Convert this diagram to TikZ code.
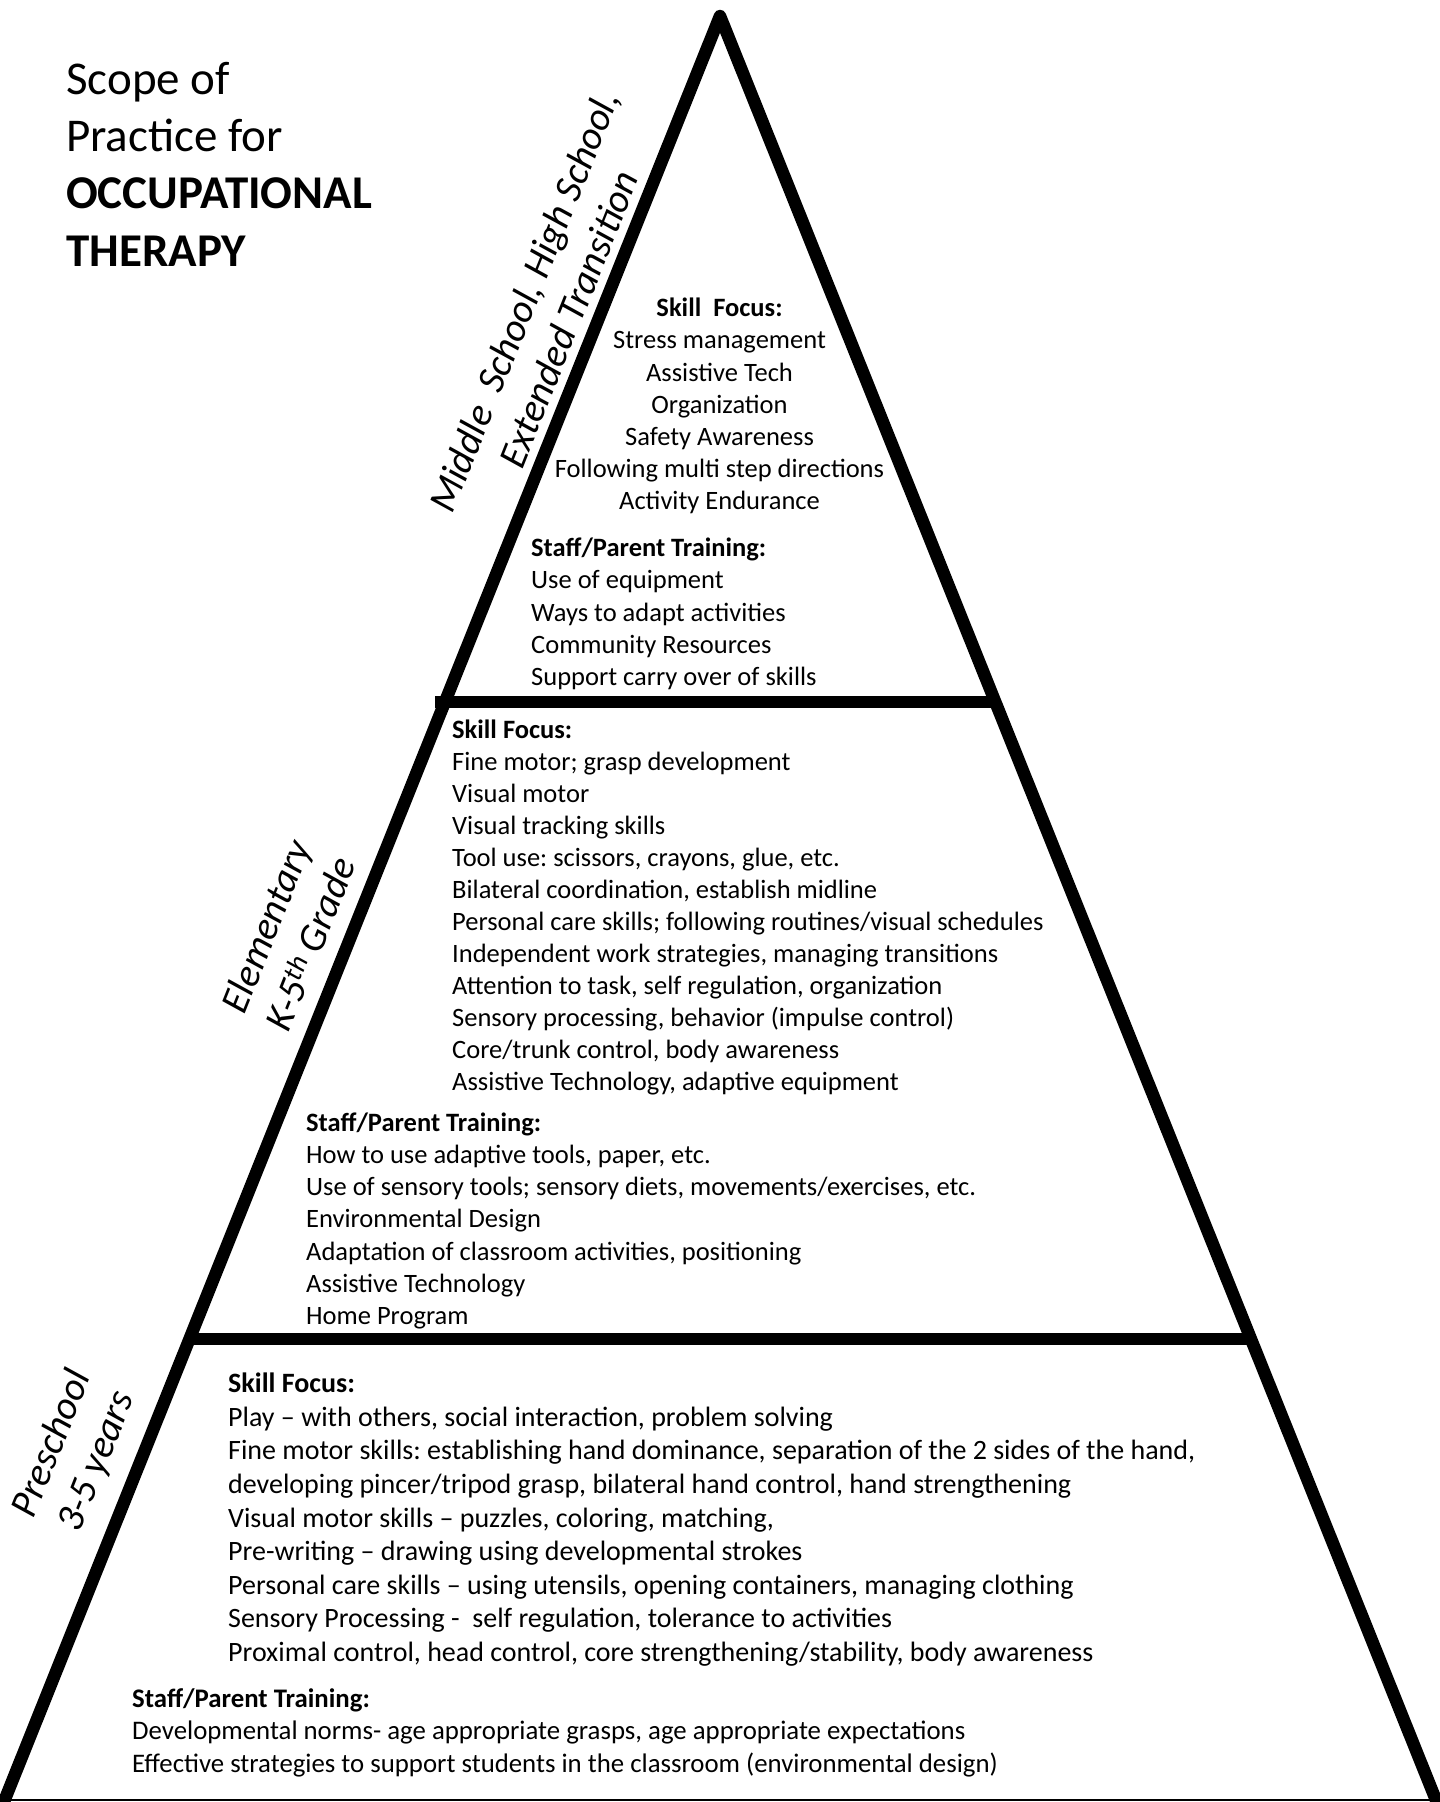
\documentclass[tikz,border=0pt]{standalone}
\usepackage{fontspec}
\setmainfont{Carlito}
\frenchspacing
\tikzset{
  edge/.style={draw=black, line width=12.5pt, line join=round},
  divider/.style={draw=black, line width=11.5pt},
  baseline rule/.style={draw=black, line width=2pt},
  bodyL/.style={inner sep=0pt, anchor=north west, align=left, font=\fontsize{26.5}{32.2}\selectfont},
  bodyC/.style={inner sep=0pt, anchor=north, align=center, font=\fontsize{26.5}{32.2}\selectfont},
  titletext/.style={inner sep=0pt, anchor=north west, align=left, font=\fontsize{47}{57.3}\selectfont},
  levellabel/.style={inner sep=0pt, anchor=center, align=center, rotate=68.2, font=\fontsize{39.5}{48}\selectfont\itshape}
}
\begin{document}
\begin{tikzpicture}[x=1pt, y=-1pt]
\useasboundingbox (0,0) rectangle (1440,1802);
\fill[white] (0,0) rectangle (1440,1802);
% pyramid
\coordinate (apex) at (720,16);
\coordinate (bl) at (-7.4,1830);
\coordinate (br) at (1448,1830);
\draw[edge] (bl) -- (apex) -- (br);
\coordinate (d1l) at (435,702);
\coordinate (d1r) at (995,702);
\coordinate (d2l) at (188,1339);
\coordinate (d2r) at (1251,1339);
\draw[divider] (d1l) -- (d1r);
\draw[divider] (d2l) -- (d2r);
\coordinate (b0) at (0,1800);
\coordinate (b1) at (1440,1800);
\draw[baseline rule] (b0) -- (b1);
% title
\node[titletext] (title) at (66,54) {\strut Scope of\\ \strut Practice for\\ \strut\textbf{OCCUPATIONAL}\\ \strut\textbf{THERAPY}};
% level labels
\node[levellabel] (lab1) at (546,310) {Middle\ \ School, High School,\\ Extended Transition};
\node[levellabel] (lab2) at (288,935) {Elementary\\ K-5\textsuperscript{th} Grade};
\node[levellabel] (lab3) at (75,1453) {Preschool\\ 3-5 years};
% top level
\node[bodyC] (topskill) at (719.5,294) {\strut\textbf{Skill\ \ Focus:}\\ \strut Stress management\\ \strut Assistive Tech\\ \strut Organization\\ \strut Safety Awareness\\ \strut Following multi step directions\\ \strut Activity Endurance};
\node[bodyL] (toptrain) at (531,534) {\strut\textbf{Staff/Parent Training:}\\ \strut Use of equipment\\ \strut Ways to adapt activities\\ \strut Community Resources\\ \strut Support carry over of skills};
% middle level
\node[bodyL, font=\fontsize{26.5}{32}\selectfont] (midskill) at (452,715.6) {\strut\textbf{Skill Focus:}\\ \strut Fine motor; grasp development\\ \strut Visual motor\\ \strut Visual tracking skills\\ \strut Tool use: scissors, crayons, glue, etc.\\ \strut Bilateral coordination, establish midline\\ \strut Personal care skills; following routines/visual schedules\\ \strut Independent work strategies, managing transitions\\ \strut Attention to task, self regulation, organization\\ \strut Sensory processing, behavior (impulse control)\\ \strut Core/trunk control, body awareness\\ \strut Assistive Technology, adaptive equipment};
\node[bodyL] (midtrain) at (306,1108.5) {\strut\textbf{Staff/Parent Training:}\\ \strut How to use adaptive tools, paper, etc.\\ \strut Use of sensory tools; sensory diets, movements/exercises, etc.\\ \strut Environmental Design\\ \strut Adaptation of classroom activities, positioning\\ \strut Assistive Technology\\ \strut Home Program};
% bottom level
\node[bodyL, font=\fontsize{28}{33.6}\selectfont] (botskill) at (228,1369) {\strut\textbf{Skill Focus:}\\ \strut Play – with others, social interaction, problem solving\\ \strut Fine motor skills: establishing hand dominance, separation of the 2 sides of the hand,\\ \strut developing pincer/tripod grasp, bilateral hand control, hand strengthening\\ \strut Visual motor skills – puzzles, coloring, matching,\\ \strut Pre-writing – drawing using developmental strokes\\ \strut Personal care skills – using utensils, opening containers, managing clothing\\ \strut Sensory Processing -\ \ self regulation, tolerance to activities\\ \strut Proximal control, head control, core strengthening/stability, body awareness};
\node[bodyL, font=\fontsize{26.8}{32.75}\selectfont] (bottrain) at (132,1684) {\strut\textbf{Staff/Parent Training:}\\ \strut Developmental norms- age appropriate grasps, age appropriate expectations\\ \strut Effective strategies to support students in the classroom (environmental design)};
\end{tikzpicture}
\end{document}
